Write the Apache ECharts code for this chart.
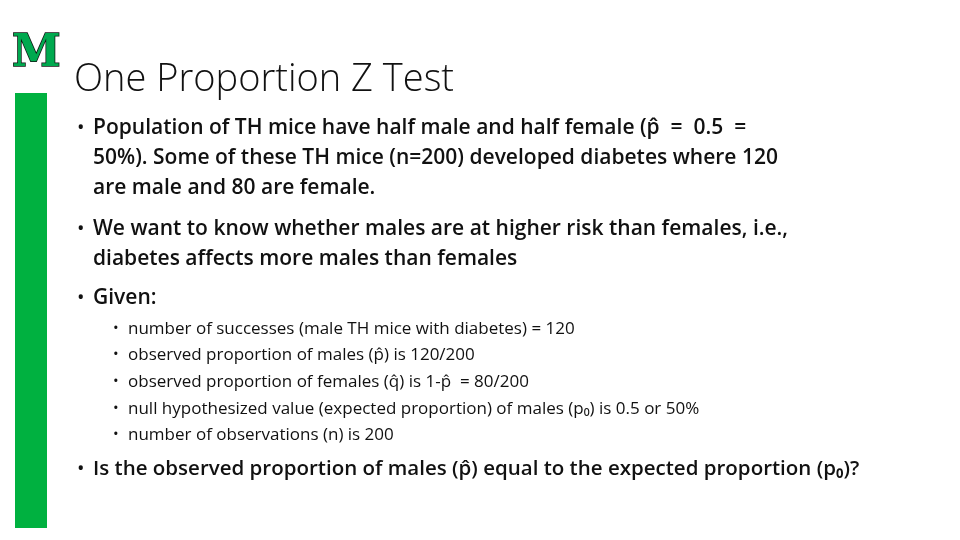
<!DOCTYPE html>
<html><head><meta charset="utf-8">
<script src="https://cdn.jsdelivr.net/npm/echarts@6/dist/echarts.min.js"></script>
<style>html,body{margin:0;padding:0;background:#fff}#c{width:960px;height:540px}</style>
</head><body><div id="c"></div>
<script>
const title = "One Proportion Z Test";
const mainBullets = [
  ["Population of TH mice have half male and half female (p̂  =  0.5  =",
   "50%). Some of these TH mice (n=200) developed diabetes where 120",
   "are male and 80 are female."],
  ["We want to know whether males are at higher risk than females, i.e.,",
   "diabetes affects more males than females"],
  ["Given:"]
];
const mainY = [128, 229, 298];
const subBullets = [
  "number of successes (male TH mice with diabetes) = 120",
  "observed proportion of males (p̂) is 120/200",
  "observed proportion of females (q̂) is 1-p̂  = 80/200",
  "null hypothesized value (expected proportion) of males (p₀) is 0.5 or 50%",
  "number of observations (n) is 200"
];
const subY = [329, 355, 382, 409, 435];
const lastBullet = "Is the observed proportion of males (p̂) equal to the expected proportion (p₀)?";
const lastY = 469;

const F = "'Open Sans', sans-serif";
const g = [];
g.push({type:'rect', shape:{x:15,y:93,width:32,height:435}, style:{fill:'#00b140'}});
g.push({type:'text', x:12, y:33, style:{text:'M', font:"bold 44px 'DejaVu Serif'", fill:'#00a94f', stroke:'#111', lineWidth:1.5}});
g.push({type:'text', x:74, y:80, style:{text:title, font:"300 38px 'Open Sans'", fill:'#111', verticalAlign:'middle'}});
mainBullets.forEach((lines,i)=>{
  g.push({type:'text', x:77, y:mainY[i], style:{text:'•', font:"20px "+F, fill:'#111', verticalAlign:'middle'}});
  lines.forEach((l,j)=>g.push({type:'text', x:93, y:mainY[i]+j*30, style:{text:l, font:"600 21px "+F, fill:'#111', verticalAlign:'middle'}}));
});
subBullets.forEach((s,i)=>{
  g.push({type:'text', x:113, y:subY[i], style:{text:'•', font:"15px "+F, fill:'#111', verticalAlign:'middle'}});
  g.push({type:'text', x:128, y:subY[i], style:{text:s, font:"17px "+F, fill:'#111', verticalAlign:'middle'}});
});
g.push({type:'text', x:77, y:lastY, style:{text:'•', font:"20px "+F, fill:'#111', verticalAlign:'middle'}});
g.push({type:'text', x:93, y:lastY, style:{text:lastBullet, font:"600 20.5px "+F, fill:'#111', verticalAlign:'middle'}});

const chart = echarts.init(document.getElementById('c'));
chart.setOption({backgroundColor:'#fff', animation:false, graphic:g});
</script></body></html>
